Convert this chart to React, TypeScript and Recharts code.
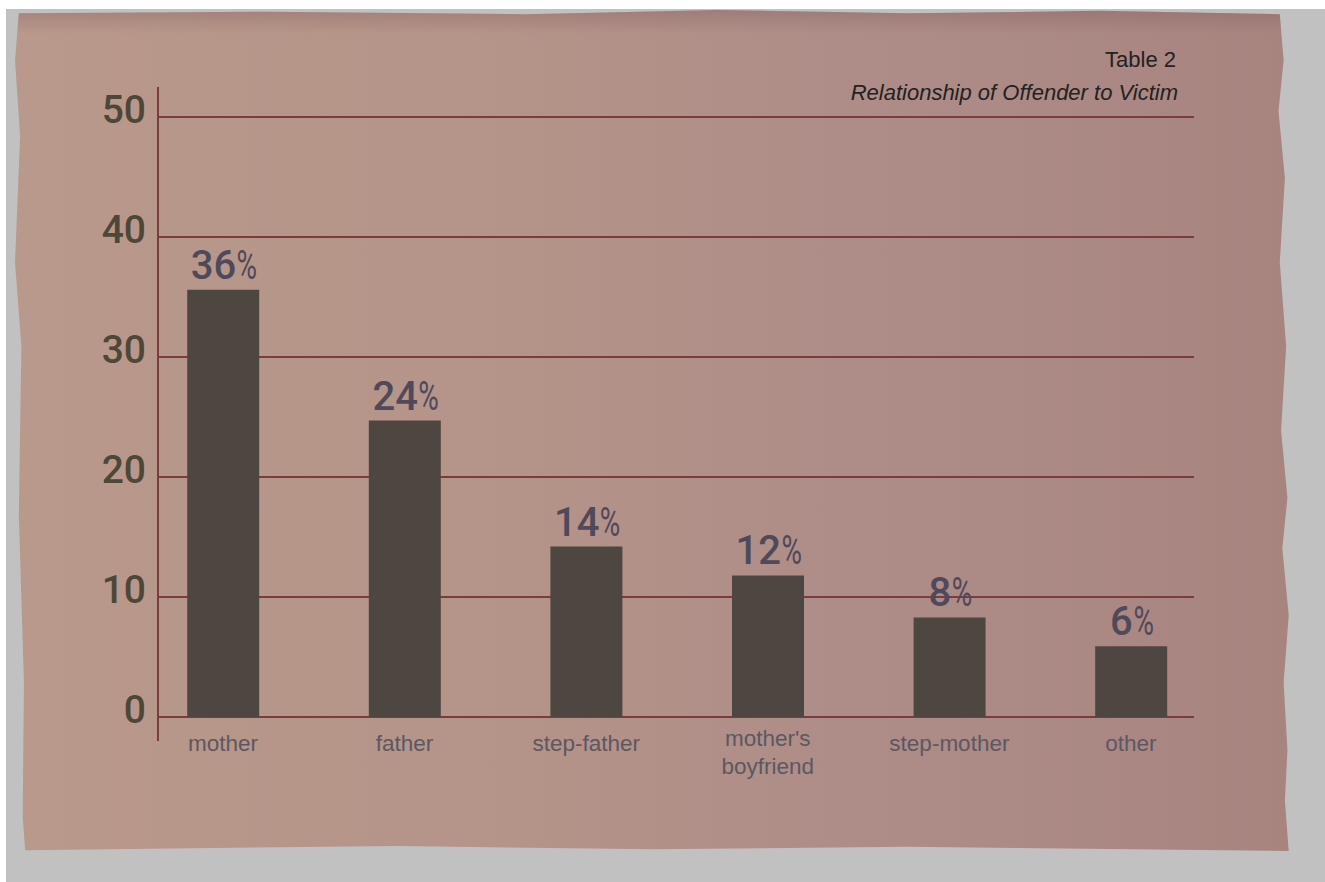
import React from 'react';
import { BarChart, Bar, XAxis, YAxis, CartesianGrid, LabelList } from 'recharts';

const categories = ['mother', 'father', 'step-father', "mother's boyfriend", 'step-mother', 'other'];
const barValues = [35.6, 24.7, 14.2, 11.8, 8.3, 5.9];
const barLabels = ['36', '24', '14', '12', '8', '6'];
const yTicks = [0, 10, 20, 30, 40, 50];

const GRID = '#7b3c3c';
const BAR = '#4e4741';

const data = categories.map((name, i) => ({
  idx: i,
  name,
  value: barValues[i],
  label: barLabels[i],
}));

const YTick = (props: any) => {
  const { x, y, payload } = props;
  return (
    <text x={x - 4} y={y + 6} textAnchor="end" fill="#4c4737" fontFamily="Roboto" fontWeight={500} fontSize={39}>
      {payload.value}
    </text>
  );
};

const XTick = (props: any) => {
  const { x, y, payload } = props;
  const name = categories[payload.value] ?? '';
  const lines = name.indexOf(' ') > 0 ? name.split(' ') : [name];
  const startY = lines.length > 1 ? y - 3 : y + 2;
  return (
    <text x={x} y={startY} textAnchor="middle" fill="#5b5862" fontFamily="'Liberation Sans', Arial, sans-serif" fontSize={22.5}>
      {lines.map((l, i) => (
        <tspan key={i} x={x} dy={i === 0 ? 0 : 28}>
          {l}
        </tspan>
      ))}
    </text>
  );
};

const PctLabel = (props: any) => {
  const { x, y, width, value } = props;
  const digits = String(value);
  const digitW = digits.length * 22.4;
  const pctW = 20;
  const start = x + width / 2 - (digitW + pctW) / 2;
  const base = y - 11;
  return (
    <g fill="#4f495a" fontFamily="Roboto" fontWeight={500} fontSize={40}>
      <text x={start} y={base} textAnchor="start">
        {digits}
      </text>
      <text x={0} y={0} textAnchor="start" fontWeight={400} transform={`translate(${start + digitW + 1},${base}) scale(0.7,1)`}>
        %
      </text>
    </g>
  );
};

// torn paper outline (decoration only)
const paperClip =
  'polygon(0.3% 0.4%, 20% 0.2%, 40% 0.5%, 55% 0%, 70% 0.4%, 85% 0.1%, 99.2% 0.5%, 99.5% 6%, 99.1% 12%, 99.6% 20%, 99.2% 30%, 99.7% 40%, 99.3% 50%, 99.8% 58%, 99.4% 64%, 99.9% 72%, 99.5% 80%, 99.8% 88%, 99.6% 94%, 99.9% 100%, 70% 99.5%, 50% 99.8%, 30% 99.4%, 0.8% 99.9%, 0.6% 96%, 0.7% 80%, 0.3% 60%, 0.5% 40%, 0% 30%, 0.4% 15%, 0% 6%)';

export default function App() {
  return (
    <div style={{ position: 'fixed', left: 0, top: 0, width: 1325, height: 882, background: '#ffffff', overflow: 'hidden' }}>
      <div style={{ position: 'absolute', left: 6, top: 9, right: 0, bottom: 0, background: '#c1c1c1' }} />
      <div
        style={{
          position: 'absolute',
          left: 15,
          top: 10,
          width: 1275,
          height: 841,
          clipPath: paperClip,
          background:
            'linear-gradient(180deg, rgba(120,80,85,0.3) 0px, rgba(120,80,85,0) 24px), linear-gradient(90deg, #b9998b 0%, #b59489 35%, #ae8d88 65%, #a8847f 100%)',
        }}
      />
      <div
        style={{
          position: 'absolute',
          right: 149,
          top: 49,
          fontFamily: "'Liberation Sans', Arial, sans-serif",
          fontSize: 22,
          lineHeight: 1,
          color: '#222',
          textAlign: 'right',
        }}
      >
        Table 2
      </div>
      <div
        style={{
          position: 'absolute',
          right: 147,
          top: 82,
          fontFamily: "'Liberation Sans', Arial, sans-serif",
          fontSize: 22,
          fontStyle: 'italic',
          lineHeight: 1,
          color: '#222',
          textAlign: 'right',
          whiteSpace: 'nowrap',
        }}
      >
        Relationship of Offender to Victim
      </div>
      <div style={{ position: 'absolute', left: 0, top: 0 }}>
        <BarChart width={1325} height={882} data={data} margin={{ top: 87, right: 131, bottom: 111, left: 98 }}>
          <CartesianGrid vertical={false} stroke={GRID} strokeWidth={2} syncWithTicks />
          <XAxis
            type="number"
            dataKey="idx"
            domain={[-0.358, 5.347]}
            ticks={[0, 1, 2, 3, 4, 5]}
            allowDataOverflow
            axisLine={false}
            tickLine={false}
            height={30}
            tick={<XTick />}
            interval={0}
          />
          <YAxis
            type="number"
            domain={[-2, 52.5]}
            ticks={yTicks}
            allowDataOverflow
            width={60}
            axisLine={{ stroke: GRID, strokeWidth: 2 }}
            tickLine={false}
            tick={<YTick />}
          />
          <Bar dataKey="value" fill={BAR} barSize={72} isAnimationActive={false}>
            <LabelList dataKey="label" content={<PctLabel />} />
          </Bar>
        </BarChart>
      </div>
    </div>
  );
}
